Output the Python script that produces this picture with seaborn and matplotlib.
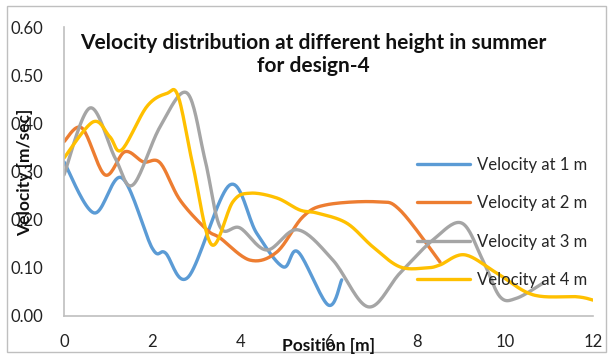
import numpy as np
import pandas as pd
import matplotlib
matplotlib.use("Agg")
import matplotlib.pyplot as plt
import seaborn as sns

# ---- data ----
x_1m = [0, 0.68, 1.31, 2.0, 2.3, 2.82, 3.76, 4.37, 4.97, 5.31, 5.99, 6.3]
v_1m = [0.32, 0.214, 0.287, 0.141, 0.131, 0.081, 0.272, 0.172, 0.102, 0.133, 0.023, 0.075]

x_2m = [0, 0.41, 0.93, 1.38, 1.8, 2.18, 2.63, 3.24, 3.54, 4.22, 4.83, 5.42, 5.96, 7.1, 7.62, 8.53]
v_2m = [0.362, 0.39, 0.293, 0.341, 0.32, 0.318, 0.241, 0.179, 0.162, 0.116, 0.133, 0.206, 0.231, 0.237, 0.22, 0.112]

x_3m = [0, 0.59, 1.16, 1.56, 2.18, 2.79, 3.2, 3.54, 3.99, 4.6, 5.3, 6.1, 6.9, 7.62, 8.37, 9.02, 9.5, 9.89, 10.27, 10.86]
v_3m = [0.293, 0.432, 0.328, 0.272, 0.393, 0.463, 0.324, 0.185, 0.183, 0.137, 0.179, 0.116, 0.019, 0.089, 0.158, 0.193, 0.116, 0.04, 0.037, 0.068]

x_4m = [0, 0.66, 1.04, 1.31, 1.88, 2.33, 2.59, 2.93, 3.35, 3.83, 4.22, 4.83, 5.35, 5.73, 6.41, 7.0, 7.62, 8.23, 8.53, 9.09, 9.82, 10.64, 11.63, 12.0]
v_4m = [0.328, 0.403, 0.372, 0.345, 0.435, 0.462, 0.456, 0.31, 0.148, 0.237, 0.255, 0.245, 0.22, 0.214, 0.193, 0.144, 0.102, 0.1, 0.106, 0.127, 0.089, 0.044, 0.04, 0.033]

series_names = ["Velocity at 1 m", "Velocity at 2 m", "Velocity at 3 m", "Velocity at 4 m"]
colors = ["#5B9BD5", "#ED7D31", "#A5A5A5", "#FFC000"]

x_ticks = [0, 2, 4, 6, 8, 10, 12]
y_ticks = [0.0, 0.1, 0.2, 0.3, 0.4, 0.5, 0.6]


def smooth(xs, ys, n=20):
    """Catmull-Rom parametric smoothing (like Excel's smoothed line)."""
    P = np.column_stack([xs, ys]).astype(float)
    P = np.vstack([P[0], P, P[-1]])
    out = []
    for i in range(1, len(P) - 2):
        p0, p1, p2, p3 = P[i - 1], P[i], P[i + 1], P[i + 2]
        t = np.linspace(0, 1, n, endpoint=False)[:, None]
        pts = 0.5 * ((2 * p1) + (-p0 + p2) * t + (2 * p0 - 5 * p1 + 4 * p2 - p3) * t ** 2
                     + (-p0 + 3 * p1 - 3 * p2 + p3) * t ** 3)
        out.append(pts)
    out.append(P[-2][None, :])
    return np.vstack(out)


frames = []
for name, xs, ys in zip(series_names, [x_1m, x_2m, x_3m, x_4m], [v_1m, v_2m, v_3m, v_4m]):
    s = smooth(xs, ys)
    frames.append(pd.DataFrame({"Position": s[:, 0], "Velocity": s[:, 1],
                                "Series": name, "order": np.arange(len(s))}))
df = pd.concat(frames, ignore_index=True)

sns.set_theme(style="white")
plt.rcParams["font.family"] = ["Lato", "DejaVu Sans"]

fig = plt.figure(figsize=(6.13, 3.58), dpi=100)
ax = fig.add_axes([64 / 613, 1 - 316 / 358, (593 - 64) / 613, (316 - 27) / 358])

sns.lineplot(data=df, x="Position", y="Velocity", hue="Series", palette=colors,
             sort=False, estimator=None, units="Series", linewidth=2.4, ax=ax)

ax.set_xlim(0, 12)
ax.set_ylim(0, 0.6)
ax.set_xticks(x_ticks)
ax.set_xticklabels([str(t) for t in x_ticks], fontsize=12)
ax.set_yticks(y_ticks)
ax.set_yticklabels([f"{t:.2f}" for t in y_ticks], fontsize=12)
ax.tick_params(axis="both", length=0, pad=13, colors="#222222")
ax.tick_params(axis="y", pad=15)

for s in ["top", "right"]:
    ax.spines[s].set_visible(False)
for s in ["left", "bottom"]:
    ax.spines[s].set_color("#BFBFBF")
    ax.spines[s].set_linewidth(1.2)

ax.set_xlabel("")
ax.set_ylabel("")
fig.text(329 / 613, 1 - 346 / 358, "Position [m]", ha="center", va="center",
         fontsize=12.5, fontweight="bold", color="#111111")
fig.text(25 / 613, 1 - 172 / 358, "Velocity [m/sec]", ha="center", va="center",
         rotation=90, fontsize=12.5, fontweight="bold", color="#111111")

fig.text(313 / 613, 1 - 43 / 358, "Velocity distribution at different height in summer",
         ha="center", va="center", fontsize=15, fontweight="bold", color="#111111")
fig.text(313 / 613, 1 - 66 / 358, "for design-4",
         ha="center", va="center", fontsize=15, fontweight="bold", color="#111111")

handles, labels = ax.get_legend_handles_labels()
ax.legend(handles, labels, loc="center left", bbox_to_anchor=(417 / 613, 1 - 222.5 / 358),
          bbox_transform=fig.transFigure, frameon=False, fontsize=12,
          handlelength=3.2, handletextpad=0.4, labelspacing=1.35, borderpad=0,
          borderaxespad=0)

# outer chart border
border = plt.Rectangle((7 / 613, 1 - 352 / 358), (606 - 7) / 613, (352 - 6) / 358,
                       transform=fig.transFigure, fill=False, edgecolor="#BFBFBF",
                       linewidth=1.0)
fig.add_artist(border)

fig.savefig("out.png", dpi=100)
